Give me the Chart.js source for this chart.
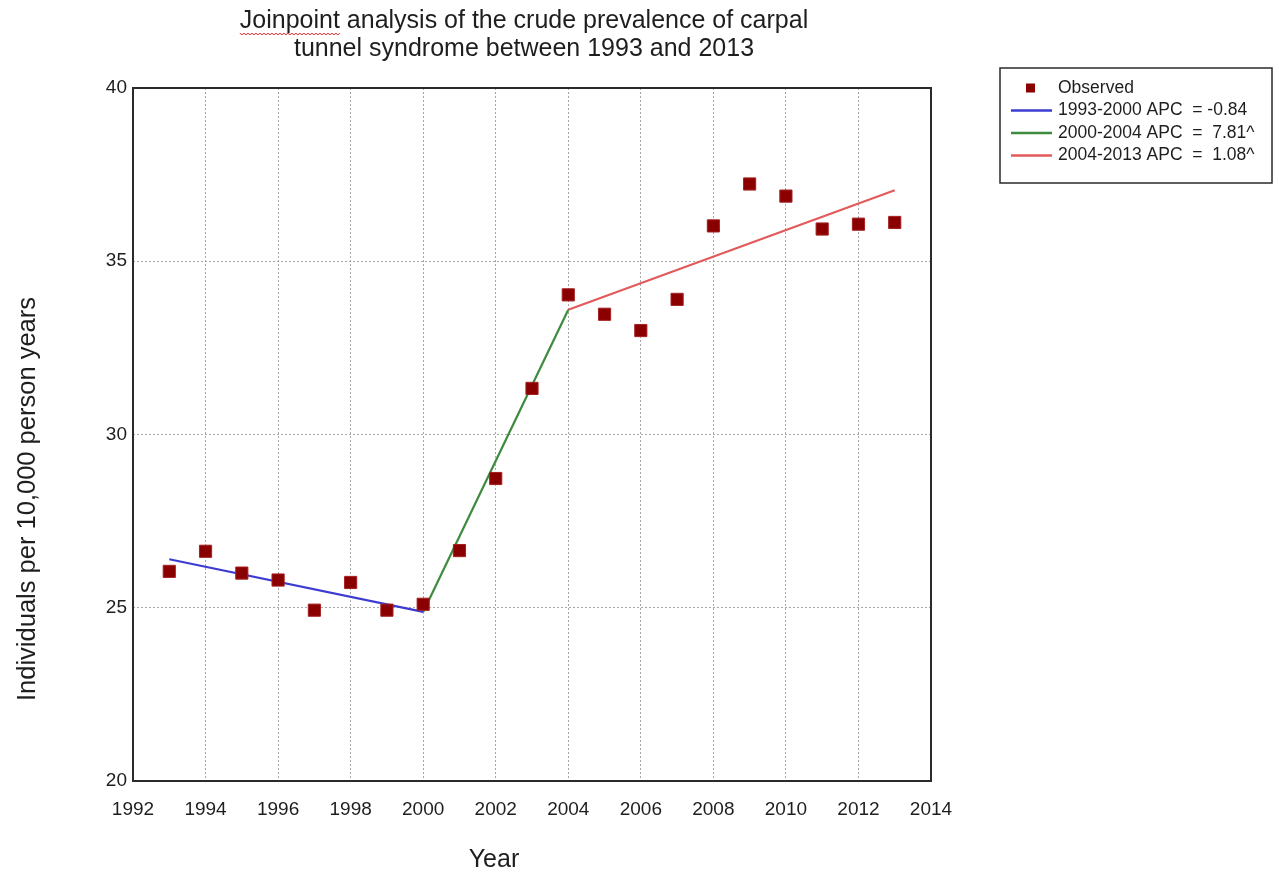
<!DOCTYPE html>
<html>
<head>
<meta charset="utf-8">
<title>Joinpoint analysis of carpal tunnel syndrome prevalence</title>
<script src="https://cdn.jsdelivr.net/npm/chart.js@4/dist/chart.umd.min.js"></script>
<style>
  html, body { margin: 0; padding: 0; background: #ffffff; }
  canvas { display: block; }
</style>
</head>
<body>
<canvas id="chart" width="1279" height="874"></canvas>
<script>
// Observed crude prevalence (per 10,000 person years)
const years = [1993, 1994, 1995, 1996, 1997, 1998, 1999, 2000, 2001, 2002, 2003,
               2004, 2005, 2006, 2007, 2008, 2009, 2010, 2011, 2012, 2013];
const observed = [26.05, 26.63, 26.00, 25.80, 24.93, 25.73, 24.93, 25.10, 26.65, 28.73, 31.33,
                  34.03, 33.47, 33.00, 33.90, 36.02, 37.23, 36.88, 35.93, 36.07, 36.12];

// Joinpoint segments: start/end years and fitted values
const seg1Years = [1993, 2000];
const seg1Fit = [26.40, 24.88];
const seg2Years = [2000, 2004];
const seg2Fit = [24.88, 33.60];
const seg3Years = [2004, 2013];
const seg3Fit = [33.60, 37.05];

const seriesLabels = ['Observed', '1993-2000 APC  = -0.84', '2000-2004 APC  =  7.81^', '2004-2013 APC  =  1.08^'];
const titleLines = ['Joinpoint analysis of the crude prevalence of carpal', 'tunnel syndrome between 1993 and 2013'];
const xAxisTitle = 'Year';
const yAxisTitle = 'Individuals per 10,000 person years';

const FONT = '"Liberation Sans", Arial, sans-serif';
const TEXT = '#1e1e1e';

const toPoints = (xs, ys) => xs.map((x, i) => ({ x: x, y: ys[i] }));

// Title, axis titles, plot frame and legend box drawn on the canvas
const decorations = {
  id: 'decorations',
  afterDraw(chart) {
    const ctx = chart.ctx;
    const area = chart.chartArea;
    ctx.save();

    // plot frame
    ctx.strokeStyle = '#2a2a2a';
    ctx.lineWidth = 2;
    ctx.strokeRect(area.left, area.top, area.right - area.left, area.bottom - area.top);

    // title
    ctx.fillStyle = TEXT;
    ctx.font = '25px ' + FONT;
    ctx.textAlign = 'center';
    ctx.textBaseline = 'alphabetic';
    const cx = 524;
    ctx.fillText(titleLines[0], cx, 28);
    ctx.fillText(titleLines[1], cx, 56);

    // wavy underline under the first word
    const firstWord = titleLines[0].split(' ')[0];
    const lineW = ctx.measureText(titleLines[0]).width;
    const wordW = ctx.measureText(firstWord).width;
    const x0 = cx - lineW / 2;
    ctx.strokeStyle = '#e02020';
    ctx.lineWidth = 1;
    ctx.beginPath();
    let up = true;
    for (let x = x0; x <= x0 + wordW; x += 2) {
      const y = up ? 33 : 35;
      if (x === x0) ctx.moveTo(x, y); else ctx.lineTo(x, y);
      up = !up;
    }
    ctx.stroke();

    // axis titles
    ctx.font = '25px ' + FONT;
    ctx.textBaseline = 'middle';
    ctx.fillText(xAxisTitle, 494, 860);
    ctx.save();
    ctx.translate(28, 499);
    ctx.rotate(-Math.PI / 2);
    ctx.font = '25.5px ' + FONT;
    ctx.fillText(yAxisTitle, 0, 0);
    ctx.restore();

    // legend
    const lx = 1000, ly = 68, lw = 272, lh = 115;
    ctx.fillStyle = '#ffffff';
    ctx.fillRect(lx, ly, lw, lh);
    ctx.strokeStyle = '#2a2a2a';
    ctx.lineWidth = 1.5;
    ctx.strokeRect(lx, ly, lw, lh);
    ctx.font = '17.5px ' + FONT;
    ctx.textAlign = 'left';
    ctx.textBaseline = 'middle';
    const rowY = [88, 110.5, 133, 155.5];
    chart.data.datasets.forEach((ds, i) => {
      const y = rowY[i];
      if (i === 0) {
        ctx.fillStyle = ds.pointBackgroundColor;
        ctx.fillRect(1026, y - 4.5, 9, 9);
      } else {
        ctx.strokeStyle = ds.borderColor;
        ctx.lineWidth = 2.5;
        ctx.beginPath();
        ctx.moveTo(1011, y);
        ctx.lineTo(1052, y);
        ctx.stroke();
      }
      ctx.fillStyle = TEXT;
      ctx.fillText(ds.label, 1058, y);
    });
    ctx.restore();
  }
};

new Chart(document.getElementById('chart'), {
  type: 'scatter',
  data: {
    datasets: [
      {
        label: seriesLabels[0],
        data: toPoints(years, observed),
        pointStyle: 'rect',
        pointRadius: 8.6,
        pointBackgroundColor: '#8a0000',
        pointBorderColor: '#a52020',
        pointBorderWidth: 1,
        showLine: false
      },
      {
        label: seriesLabels[1],
        data: toPoints(seg1Years, seg1Fit),
        showLine: true,
        borderColor: '#3c3cd2',
        borderWidth: 2.2,
        pointRadius: 0
      },
      {
        label: seriesLabels[2],
        data: toPoints(seg2Years, seg2Fit),
        showLine: true,
        borderColor: '#3e8a3e',
        borderWidth: 2.2,
        pointRadius: 0
      },
      {
        label: seriesLabels[3],
        data: toPoints(seg3Years, seg3Fit),
        showLine: true,
        borderColor: '#e25a5a',
        borderWidth: 2.2,
        pointRadius: 0
      }
    ]
  },
  options: {
    responsive: false,
    animation: false,
    layout: { padding: { left: 0, top: 88, right: 348, bottom: 0 } },
    plugins: {
      legend: { display: false },
      tooltip: { enabled: false },
      title: { display: false }
    },
    scales: {
      x: {
        type: 'linear',
        min: 1992,
        max: 2014,
        afterFit(scale) { scale.height = 93; },
        ticks: {
          stepSize: 2,
          padding: 17,
          color: TEXT,
          font: { family: FONT, size: 19 },
          callback: (v) => String(v)
        },
        grid: { color: '#a6a6a6', lineWidth: 1, drawTicks: false },
        border: { display: false, dash: [2, 2] },
        title: { display: false }
      },
      y: {
        min: 20,
        max: 40,
        afterFit(scale) { scale.width = 133; },
        ticks: {
          stepSize: 5,
          padding: 6,
          color: TEXT,
          font: { family: FONT, size: 19 }
        },
        grid: { color: '#a6a6a6', lineWidth: 1, drawTicks: false },
        border: { display: false, dash: [2, 2] },
        title: { display: false }
      }
    }
  },
  plugins: [decorations]
});
</script>
</body>
</html>
